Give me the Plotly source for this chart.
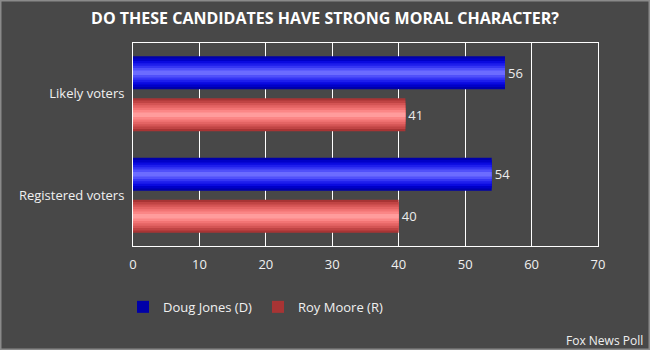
import plotly.graph_objects as go

categories = ["Likely voters", "Registered voters"]
jones = [56, 54]
moore = [41, 40]
x_ticks = [0, 10, 20, 30, 40, 50, 60, 70]

title = "DO THESE CANDIDATES HAVE STRONG MORAL CHARACTER?"
source = "Fox News Poll"

blue_layers = ["#0000a8", "#0000c8", "#0a0ae0", "#1e1eec", "#3636f4", "#5050fa", "#6c6cff"]
red_layers = ["#a83434", "#c04444", "#d45454", "#e46464", "#f27474", "#fb8686", "#ff9c9c"]

BAR_W = 0.325
CENTER_OFF = 0.207

fig = go.Figure()

def add_series(name, vals, colors, center):
    n = len(colors)
    for i, c in enumerate(colors):
        frac = 1 - i / n
        w = BAR_W * frac
        fig.add_trace(go.Bar(
            y=categories, x=vals, orientation="h",
            name=name,
            width=[w] * len(vals),
            offset=[center - w / 2] * len(vals),
            marker=dict(color=c, line=dict(width=0)),
            text=[str(v) for v in vals] if i == 0 else None,
            textposition="outside" if i == 0 else "none",
            textfont=dict(color="#ececec", size=13, family="Open Sans"),
            cliponaxis=False,
            showlegend=(i == 0),
            legendgroup=name,
            hoverinfo="skip",
        ))

add_series("Doug Jones (D)", jones, blue_layers, -CENTER_OFF)
add_series("Roy Moore (R)", moore, red_layers, CENTER_OFF)

fig.update_layout(
    width=650, height=350,
    paper_bgcolor="#484848", plot_bgcolor="#484848",
    barmode="overlay",
    margin=dict(l=133, r=52, t=43, b=104),
    font=dict(family="Open Sans", color="#f0f0f0", size=13),
    title=dict(text="<b>" + title + "</b>", x=0.5, xanchor="center",
               y=1 - 18 / 350, yanchor="middle",
               font=dict(size=16, color="#ffffff", family="Open Sans")),
    xaxis=dict(range=[0, 70], tickvals=x_ticks, showgrid=True, gridcolor="#ffffff",
               gridwidth=1, zeroline=False, showline=True, linecolor="#ffffff",
               linewidth=1, mirror=True, ticks="outside", ticklen=6, tickcolor="rgba(0,0,0,0)",
               tickfont=dict(size=13, color="#f0f0f0"), fixedrange=True),
    yaxis=dict(categoryorder="array", categoryarray=categories, autorange="reversed",
               showgrid=False, showline=True, linecolor="#ffffff", linewidth=1, mirror=True,
               ticks="outside", ticklen=5, tickcolor="rgba(0,0,0,0)",
               tickfont=dict(size=13, color="#f0f0f0"), fixedrange=True),
    legend=dict(orientation="h", x=-0.0215, xanchor="left", y=-0.3, yanchor="middle",
                font=dict(size=13, color="#f0f0f0"), bgcolor="rgba(0,0,0,0)",
                itemwidth=30, entrywidth=90, entrywidthmode="pixels", traceorder="normal"),
    annotations=[dict(text=source, xref="paper", yref="paper", x=1 + 47 / 465, y=-(340 - 246) / 203,
                      xanchor="right", yanchor="middle", showarrow=False,
                      font=dict(size=12, color="#f0f0f0"))],
    shapes=[dict(type="rect", xref="paper", yref="paper",
                 x0=-133 / 465 + 0.5 / 465, x1=1 + 52 / 465 - 0.5 / 465,
                 y0=-104 / 203 + 0.5 / 203, y1=1 + 43 / 203 - 0.5 / 203,
                 line=dict(color="#8a8a8a", width=2), layer="above")],
)

fig.write_html("out.html")
